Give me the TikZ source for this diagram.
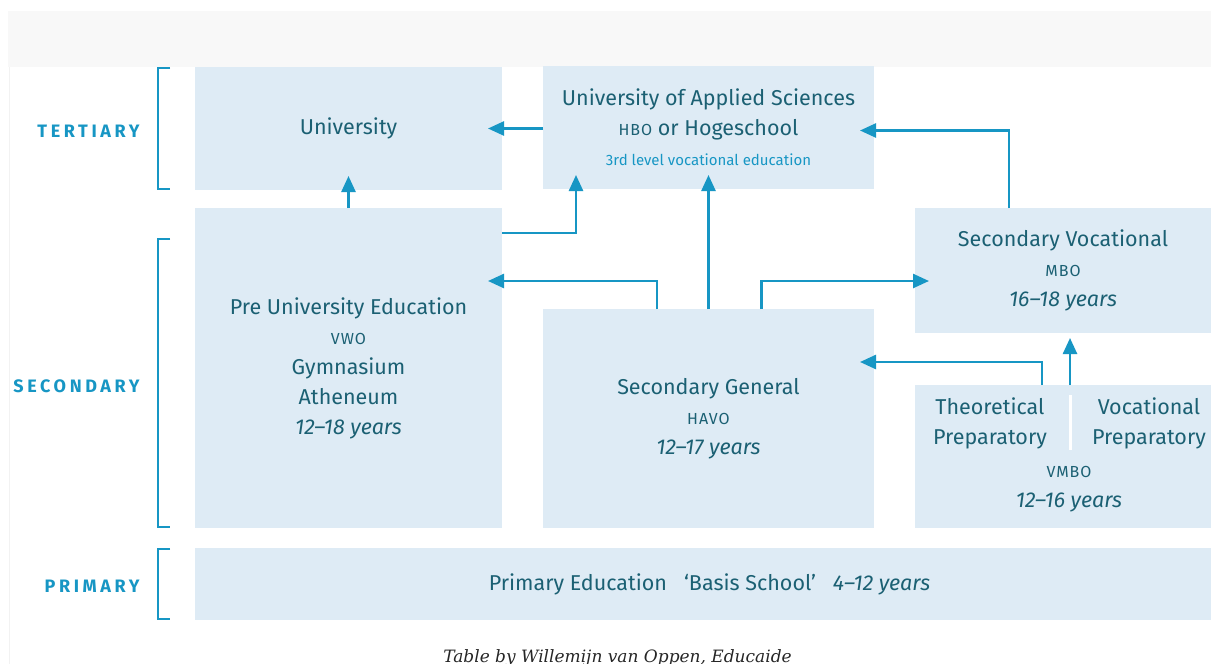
\documentclass[tikz,border=0pt]{standalone}
\usepackage{fontspec}
\setmainfont{Fira Sans}
\newfontfamily\tagfont{Fira Sans}[LetterSpace=20]
\newfontfamily\abbrfont{Fira Sans}[LetterSpace=6]
\newfontfamily\creditfont{DejaVu Serif}
\usetikzlibrary{arrows.meta}
\definecolor{boxblue}{HTML}{DEEBF5}
\definecolor{inkteal}{HTML}{1B6073}
\definecolor{flowblue}{HTML}{1796C4}
\definecolor{stripgray}{HTML}{F8F8F8}
\newcommand{\abbr}[1]{{\abbrfont\fontsize{16}{30}\selectfont #1}}
\newcommand{\yrs}[1]{{\itshape #1 years}}

\begin{document}
\begin{tikzpicture}[x=1pt,y=-1pt,
    stage/.style={fill=boxblue, text=inkteal, align=center, inner sep=0pt, outer sep=0pt,
        font=\fontsize{21.5}{30}\selectfont},
    flow/.style={draw=flowblue, line width=2.5pt, -{Triangle[length=16pt,width=14pt]}},
    into/.style={shorten >=-14pt},
    level/.style={text=flowblue, anchor=east, font=\tagfont\bfseries\fontsize{18}{20}\selectfont},
    bracket/.style={draw=flowblue, line width=2.5pt}]
    \useasboundingbox[fill=white] (0,0) rectangle (1211,664);
    \fill[stripgray] (8,11) rectangle (1211,67);
    \draw[black!5, line width=1pt] (9,67)--(9,664);

    % levels
    \node[level] (tertiary) at (143,131) {TERTIARY};
    \node[level] (secondary) at (143,386) {SECONDARY};
    \node[level] (primary) at (143,586) {PRIMARY};
    \draw[bracket] (170,68)--(158,68)--(158,189)--(170,189);
    \draw[bracket] (170,239)--(158,239)--(158,527)--(170,527);
    \draw[bracket] (170,549)--(158,549)--(158,619)--(170,619);

    % schools
    \node[stage, minimum width=307pt, minimum height=123pt] (univ) at (348.5,128.5) {University};
    \node[stage, minimum width=331pt, minimum height=123pt] (uas) at (708.5,127.5)
        {University of Applied Sciences\\ \abbr{HBO} or Hogeschool\\
         {\color{flowblue}\fontsize{15}{30}\selectfont 3rd level vocational education}};
    \node[stage, minimum width=307pt, minimum height=320pt] (pre) at (348.5,368)
        {Pre University Education\\ \abbr{VWO}\\ Gymnasium\\ Atheneum\\ \yrs{12--18}};
    \node[stage, minimum width=331pt, minimum height=219pt] (secgen) at (708.5,418.5)
        {Secondary General\\ \abbr{HAVO}\\ \yrs{12--17}};
    \node[stage, minimum width=296pt, minimum height=125pt] (secvoc) at (1063,270.5)
        {Secondary Vocational\\ \abbr{MBO}\\ \yrs{16--18}};
    \node[stage, minimum width=296pt, minimum height=143pt] (vmbo) at (1063,456.5) {};
    \draw[white, line width=3pt] (1070,395)--(1070,450);
    \node[stage, fill=none] (theo) at (990,423) {Theoretical\\ Preparatory};
    \node[stage, fill=none] (vocprep) at (1149,423) {Vocational\\ Preparatory};
    \node[stage, fill=none] (vmboage) at (1069,489) {\abbr{VMBO}\\ \yrs{12--16}};
    \node[stage, minimum width=1016pt, minimum height=72pt] (basis) at (703,584)
        {\hspace{13pt}Primary Education\hspace{17pt}`Basis School'\hspace{17pt}\yrs{4--12}};

    % routes
    \draw[flow, into] (uas.west |- univ.east) -- (univ.east);
    \draw[flow, into] (pre.north) -- (univ.south);
    \draw[flow, into] ([yshift=-25pt]pre.north east) -| ([xshift=33pt]uas.south west);
    \draw[flow, into] (secgen.north) -- (uas.south);
    \draw[flow, into] ([xshift=-51.5pt]secgen.north) |- ([yshift=-73pt]pre.north east);
    \draw[flow, into] ([xshift=53pt]secgen.north) |- ([yshift=-73pt]secvoc.north west);
    \draw[flow, into] ([xshift=-54pt]secvoc.north) |- ([yshift=-3pt]uas.east);
    \draw[flow, into] ([xshift=-21pt]vmbo.north) |- ([yshift=-53pt]secgen.north east);
    \draw[flow, shorten >=5pt] ([xshift=7pt]vmbo.north) -- ([xshift=7pt]secvoc.south);

    \node[font=\creditfont\itshape\fontsize{17}{19}\selectfont, text=black!85, anchor=base]
        (credit) at (617.5,662) {Table by Willemijn van Oppen, Educaide};
\end{tikzpicture}
\end{document}
